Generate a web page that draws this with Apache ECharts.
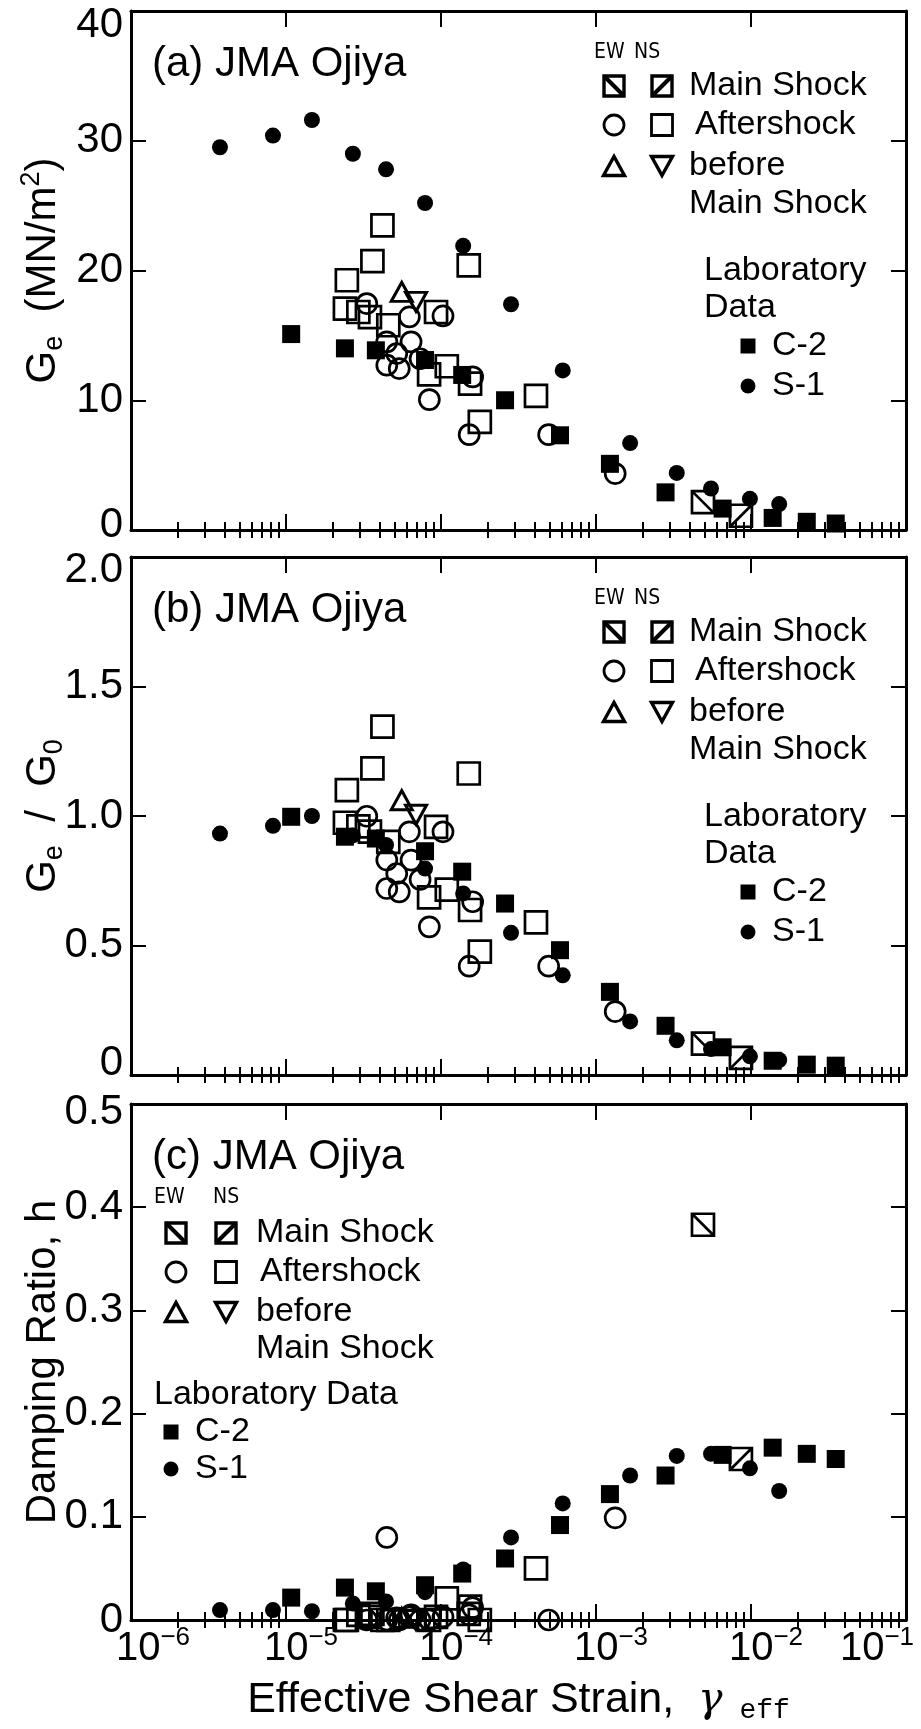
<!DOCTYPE html>
<html><head><meta charset="utf-8">
<script src="https://cdn.jsdelivr.net/npm/echarts@6/dist/echarts.min.js"></script>
<style>html,body{margin:0;padding:0;background:#fff}#c{width:921px;height:1729px}</style>
</head><body><div id="c"></div>
<script>
// ---------------- DATA ----------------
// Laboratory data S-1 (filled circles)
const s1Strain = [3.75e-6, 8.24e-6, 1.47e-5, 2.70e-5, 4.42e-5, 7.89e-5, 1.39e-4, 2.83e-4, 6.10e-4, 1.66e-3, 3.32e-3, 5.52e-3, 9.84e-3, 1.52e-2];
const s1G   = [29.5, 30.4, 31.6, 29.0, 27.8, 25.2, 21.9, 17.4, 12.3, 6.7, 4.4, 3.2, 2.4, 2.0];
const s1GG0 = [0.932, 0.962, 1.0, 0.925, 0.888, 0.797, 0.701, 0.549, 0.385, 0.207, 0.134, 0.100, 0.072, 0.058];
const s1H   = [0.0096, 0.0096, 0.0085, 0.016, 0.018, 0.027, 0.049, 0.080, 0.113, 0.140, 0.159, 0.161, 0.147, 0.125];
// Laboratory data C-2 (filled squares)
const c2Strain = [1.08e-5, 2.40e-5, 3.80e-5, 7.89e-5, 1.37e-4, 2.59e-4, 5.86e-4, 1.23e-3, 2.81e-3, 6.56e-3, 1.38e-2, 2.29e-2, 3.52e-2];
const c2G   = [15.1, 14.0, 13.85, 13.1, 11.95, 10.0, 7.3, 5.1, 2.9, 1.65, 0.93, 0.63, 0.50];
const c2GG0 = [0.997, 0.92, 0.913, 0.864, 0.785, 0.662, 0.482, 0.321, 0.190, 0.107, 0.055, 0.040, 0.036];
const c2H   = [0.0217, 0.0314, 0.0278, 0.0337, 0.045, 0.0596, 0.092, 0.122, 0.140, 0.160, 0.167, 0.161, 0.156];
// EW aftershock (open circles)
const ewAfterStrain = [3.32e-5, 6.25e-5, 1.03e-4, 4.47e-5, 6.41e-5, 5.18e-5, 4.47e-5, 5.38e-5, 7.33e-5, 1.60e-4, 8.41e-5, 1.52e-4, 4.95e-4, 1.33e-3];
const ewAfterG   = [17.45, 16.42, 16.5, 14.5, 14.5, 13.6, 12.7, 12.44, 13.2, 11.8, 10.05, 7.35, 7.35, 4.35];
const ewAfterGG0 = [0.999, 0.939, 0.939, 0.830, 0.830, 0.778, 0.720, 0.707, 0.755, 0.669, 0.572, 0.420, 0.420, 0.245];
const ewAfterH   = [0.0, 0.003, 0.003, 0.080, 0.005, 0.002, 0.0, 0.0, 0.0, 0.012, 0.0, 0.005, 0.0, 0.099];
// NS aftershock (open squares)
const nsAfterStrain = [4.19e-5, 3.61e-5, 2.47e-5, 1.51e-4, 2.40e-5, 2.93e-5, 3.48e-5, 4.57e-5, 9.29e-5, 1.09e-4, 8.38e-5, 1.54e-4, 1.78e-4, 4.10e-4];
const nsAfterG   = [23.48, 20.73, 19.25, 20.4, 17.06, 16.8, 16.4, 15.78, 16.8, 12.62, 12.0, 11.28, 8.33, 10.33];
const nsAfterGG0 = [1.345, 1.184, 1.100, 1.164, 0.974, 0.96, 0.94, 0.90, 0.958, 0.716, 0.686, 0.637, 0.476, 0.589];
const nsAfterH   = [0.0, 0.006, 0.0, 0.006, 0.0, 0.005, 0.003, 0.0, 0.003, 0.021, 0.0, 0.013, 0.0, 0.050];
// before main shock
const ewBeforeStrain = [5.58e-5]; const ewBeforeG = [18.35]; const ewBeforeGG0 = [1.061]; const ewBeforeH = [0.002];
const nsBeforeStrain = [6.90e-5]; const nsBeforeG = [17.58]; const nsBeforeGG0 = [1.005]; const nsBeforeH = [0.0];
// main shock
const ewMainStrain = [4.90e-3]; const ewMainG = [2.15]; const ewMainGG0 = [0.121]; const ewMainH = [0.383];
const nsMainStrain = [8.61e-3]; const nsMainG = [1.10]; const nsMainGG0 = [0.066]; const nsMainH = [0.156];

// tick values
const xMajorTicks = [1e-6, 1e-5, 1e-4, 1e-3, 1e-2, 1e-1];
const xMinorMultipliers = [2, 3, 4, 5, 6, 7, 8, 9];
const yTicksA = [0, 10, 20, 30, 40];
const yTicksB = [0, 0.5, 1.0, 1.5, 2.0];
const yTicksC = [0, 0.1, 0.2, 0.3, 0.4, 0.5];

// ---------------- CHART ----------------
const FONT = "'Liberation Sans', Arial, Helvetica, sans-serif";
const NARROW = "'Liberation Sans Narrow', 'DejaVu Sans Condensed', 'Liberation Sans', sans-serif";
const xMinorTicks = [];
for (let i = 0; i < xMajorTicks.length - 1; i++) xMinorMultipliers.forEach(m => xMinorTicks.push(m * xMajorTicks[i]));

const panels = [
  {top: 11,   height: 519, ticks: yTicksA, name: '{n|G}{sub|e}{n|  (MN/m}{sup|2}{n|)}',
   fmt: v => v === 40 ? '{t|40}' : (v === 0 ? '{b|0}' : '{m|' + v + '}'), padT: 28, padB: 10,
   s1: s1G, c2: c2G, ewA: ewAfterG, nsA: nsAfterG, ewB: ewBeforeG, nsB: nsBeforeG, ewM: ewMainG, nsM: nsMainG},
  {top: 557,  height: 518, ticks: yTicksB, name: '{n|G}{sub|e}{n|  /  G}{sub|0}',
   fmt: v => v === 2 ? '{t|2.0}' : (v === 0 ? '{b|0}' : '{m|' + v.toFixed(1) + '}'), padT: 26, padB: 24,
   s1: s1GG0, c2: c2GG0, ewA: ewAfterGG0, nsA: nsAfterGG0, ewB: ewBeforeGG0, nsB: nsBeforeGG0, ewM: ewMainGG0, nsM: nsMainGG0},
  {top: 1104, height: 516, ticks: yTicksC, name: '{n|Damping Ratio, h}',
   fmt: v => v === 0.5 ? '{t|0.5}' : (v === 0 ? '{b|0}' : '{m|' + v.toFixed(1) + '}'), padT: 16, padB: 0,
   s1: s1H, c2: c2H, ewA: ewAfterH, nsA: nsAfterH, ewB: ewBeforeH, nsB: nsBeforeH, ewM: ewMainH, nsM: nsMainH}
];

const grid = [], xAxis = [], yAxis = [], series = [];
const lineW = 3;
panels.forEach((p, g) => {
  grid.push({left: 131, top: p.top, width: 775, height: p.height, containLabel: false, outerBoundsMode: 'none'});
  const base = {gridIndex: g, type: 'log', logBase: 10, min: xMajorTicks[0], max: xMajorTicks[xMajorTicks.length - 1],
    splitLine: {show: false}, minorTick: {show: false}, axisPointer: {show: false}};
  const isLast = g === 2;
  const major = (pos, labels) => Object.assign({}, base, {
    position: pos,
    axisLine: {show: true, onZero: false, lineStyle: {color: '#000', width: lineW}},
    axisTick: {show: true, inside: true, length: 16, lineStyle: {color: '#000', width: 2}, customValues: xMajorTicks},
    axisLabel: labels ? {
      show: true, customValues: xMajorTicks, margin: 5, color: '#000', fontFamily: FONT,
      formatter: v => {
        const e = Math.round(Math.log10(v));
        const pre = e === -6 ? '{s1|\u00a0}' : (e === -1 ? '' : '{s|\u00a0}');
        const post = e === -1 ? '{s2|\u00a0}' : '';
        return pre + '{ten|10}{ex|\u2212' + Math.abs(e) + '}' + post;
      },
      rich: {
        ten: {fontSize: 40, lineHeight: 48, fontFamily: FONT, color: '#000'},
        ex: {fontSize: 26, lineHeight: 26, verticalAlign: 'top', fontFamily: FONT, color: '#000'},
        s: {width: 30, fontSize: 10}, s1: {width: 44, fontSize: 10}, s2: {width: 58, fontSize: 10}
      }
    } : {show: false}
  });
  const minor = pos => Object.assign({}, base, {
    position: pos,
    axisLine: {show: false},
    axisTick: {show: true, inside: true, length: 8, lineStyle: {color: '#000', width: 2}, customValues: xMinorTicks},
    axisLabel: {show: false}
  });
  const xb = major('bottom', isLast);
  if (isLast) {
    Object.assign(xb, {
      name: '{n|Effective Shear Strain,  }{g|γ}{sub| eff}', nameLocation: 'middle', nameGap: 55, nameMoveOverlap: false,
      nameTextStyle: {rich: {
        n: {fontSize: 43, fontFamily: FONT, color: '#000', lineHeight: 50},
        g: {fontSize: 41, fontFamily: "'DejaVu Serif', 'Liberation Serif', serif", fontStyle: 'italic', color: '#000', lineHeight: 50},
        sub: {fontSize: 28, fontFamily: "'Liberation Mono', 'DejaVu Sans Mono', monospace", color: '#000', verticalAlign: 'bottom', lineHeight: 30}
      }}
    });
  }
  xAxis.push(xb, minor('bottom'), major('top', false), minor('top'));

  const yb = {gridIndex: g, type: 'value', min: p.ticks[0], max: p.ticks[p.ticks.length - 1],
    interval: p.ticks[1] - p.ticks[0], splitLine: {show: false}, axisPointer: {show: false}};
  const lab = {fontSize: 42, fontFamily: FONT, color: '#000'};
  yAxis.push(Object.assign({}, yb, {
    position: 'left',
    axisLine: {show: true, onZero: false, lineStyle: {color: '#000', width: lineW}},
    axisTick: {show: true, inside: true, length: 15, lineStyle: {color: '#000', width: 2}},
    axisLabel: {show: true, margin: 8, color: '#000', fontFamily: FONT, fontSize: 42, formatter: p.fmt,
      rich: {m: lab, t: Object.assign({padding: [p.padT, 0, 0, 0]}, lab), b: Object.assign({padding: [0, 0, p.padB, 0]}, lab)}},
    name: p.name, nameLocation: 'middle', nameRotate: 90, nameGap: 63, nameMoveOverlap: false,
    nameTextStyle: {rich: {
      n: {fontSize: 42, fontFamily: FONT, color: '#000', lineHeight: 50},
      sub: {fontSize: 27, fontFamily: FONT, color: '#000', verticalAlign: 'bottom', lineHeight: 27},
      sup: {fontSize: 27, fontFamily: FONT, color: '#000', verticalAlign: 'top', lineHeight: 27}
    }}
  }));
  yAxis.push(Object.assign({}, yb, {
    position: 'right',
    axisLine: {show: true, onZero: false, lineStyle: {color: '#000', width: lineW}},
    axisTick: {show: true, inside: true, length: 15, lineStyle: {color: '#000', width: 2}},
    axisLabel: {show: false}
  }));

  const xi = g * 4, yi = g * 2;
  const open = {color: 'rgba(0,0,0,0)', borderColor: '#000', borderWidth: 2.7, opacity: 1};
  const mk = (name, xs, ys, symbol, size, style, extra) => Object.assign({
    name, type: 'scatter', xAxisIndex: xi, yAxisIndex: yi, clip: false, silent: true,
    symbol, symbolSize: size, itemStyle: style,
    data: ys.map((v, i) => [xs[i], v])
  }, extra || {});
  const triStyle = {color: 'rgba(0,0,0,0)', borderColor: '#000', borderWidth: 3, opacity: 1};
  series.push(
    mk('EW Aftershock', ewAfterStrain, p.ewA, 'circle', 20, open),
    mk('NS Aftershock', nsAfterStrain, p.nsA, 'rect', 22, open),
    mk('EW before Main Shock', ewBeforeStrain, p.ewB, 'triangle', [21, 19], triStyle),
    mk('NS before Main Shock', nsBeforeStrain, p.nsB, 'triangle', [21, 19], triStyle, {symbolRotate: 180}),
    mk('EW Main Shock', ewMainStrain, p.ewM, 'path://M0,0L20,0L20,20L0,20ZM0,0L20,20', 22, open),
    mk('NS Main Shock', nsMainStrain, p.nsM, 'path://M0,0L20,0L20,20L0,20ZM0,20L20,0', 22, open),
    mk('C-2', c2Strain, p.c2, 'rect', 18, {color: '#000', opacity: 1}),
    mk('S-1', s1Strain, p.s1, 'circle', 16, {color: '#000', opacity: 1})
  );
});

// ---------------- LEGENDS / TITLES (graphic) ----------------
const graphics = [];
function txt(x, y, t, size, fam) {
  graphics.push({type: 'text', x, y, silent: true,
    style: {text: t, fill: '#000', fontSize: size, fontFamily: fam || FONT, align: 'left', verticalAlign: 'middle'}});
}
function circ(cx, cy, r, filled) {
  graphics.push({type: 'circle', silent: true, shape: {cx, cy, r},
    style: filled ? {fill: '#000'} : {fill: 'none', stroke: '#000', lineWidth: 2.8}});
}
function sq(cx, cy, s, filled, lw) {
  graphics.push({type: 'rect', silent: true, shape: {x: cx - s / 2, y: cy - s / 2, width: s, height: s},
    style: filled ? {fill: '#000'} : {fill: 'none', stroke: '#000', lineWidth: lw || 2.8}});
}
function tri(cx, cy, w, h, down) {
  const pts = down ? [[cx - w / 2, cy - h / 2], [cx + w / 2, cy - h / 2], [cx, cy + h / 2]]
                   : [[cx - w / 2, cy + h / 2], [cx + w / 2, cy + h / 2], [cx, cy - h / 2]];
  graphics.push({type: 'polygon', silent: true, shape: {points: pts}, style: {fill: 'none', stroke: '#000', lineWidth: 3.4}});
}
function mainIcon(cx, cy, s, ew) {
  sq(cx, cy, s, false, 3.4);
  const h = s / 2;
  graphics.push({type: 'line', silent: true,
    shape: ew ? {x1: cx - h, y1: cy - h, x2: cx + h, y2: cy + h} : {x1: cx - h, y1: cy + h, x2: cx + h, y2: cy - h},
    style: {stroke: '#000', lineWidth: 4}});
}
const LS = 34, ES = 21;
const titles = ['(a) JMA Ojiya', '(b) JMA Ojiya', '(c) JMA Ojiya'];
panels.forEach((p, g) => txt(152, p.top + 53, titles[g], 42));
[0, 1].forEach(g => {
  const T = panels[g].top;
  txt(594, T + 42, 'EW', ES, NARROW); txt(634, T + 42, 'NS', ES, NARROW);
  mainIcon(614, T + 75, 20, true); mainIcon(662, T + 75, 20, false); txt(689, T + 75, 'Main Shock', LS);
  circ(614, T + 114, 10, false); sq(662, T + 114, 21, false); txt(695, T + 114, 'Aftershock', LS);
  tri(614, T + 155, 21, 19, false); tri(662, T + 155, 21, 19, true); txt(689, T + 155, 'before', LS);
  txt(689, T + 193, 'Main Shock', LS);
  txt(704, T + 260, 'Laboratory', LS); txt(704, T + 297, 'Data', LS);
  sq(748, T + 335, 15, true); txt(772, T + 335, 'C-2', LS);
  circ(748, T + 375, 7.5, true); txt(772, T + 375, 'S-1', LS);
});
{
  const T = panels[2].top;
  txt(154, T + 94, 'EW', ES, NARROW); txt(213, T + 94, 'NS', ES, NARROW);
  mainIcon(176, T + 129, 20, true); mainIcon(226, T + 129, 20, false); txt(256, T + 129, 'Main Shock', LS);
  circ(176, T + 168, 10, false); sq(226, T + 168, 21, false); txt(260, T + 168, 'Aftershock', LS);
  tri(176, T + 208, 21, 19, false); tri(226, T + 208, 21, 19, true); txt(256, T + 208, 'before', LS);
  txt(256, T + 245, 'Main Shock', LS);
  txt(154, T + 291, 'Laboratory Data', LS);
  sq(171, T + 328, 15, true); txt(195, T + 328, 'C-2', LS);
  circ(171, T + 365, 7.5, true); txt(195, T + 365, 'S-1', LS);
}

const chart = echarts.init(document.getElementById('c'), null, {renderer: 'canvas'});
chart.setOption({
  animation: false,
  backgroundColor: '#fff',
  textStyle: {fontFamily: FONT, color: '#000'},
  grid, xAxis, yAxis, series,
  graphic: graphics
});
</script>
</body></html>
